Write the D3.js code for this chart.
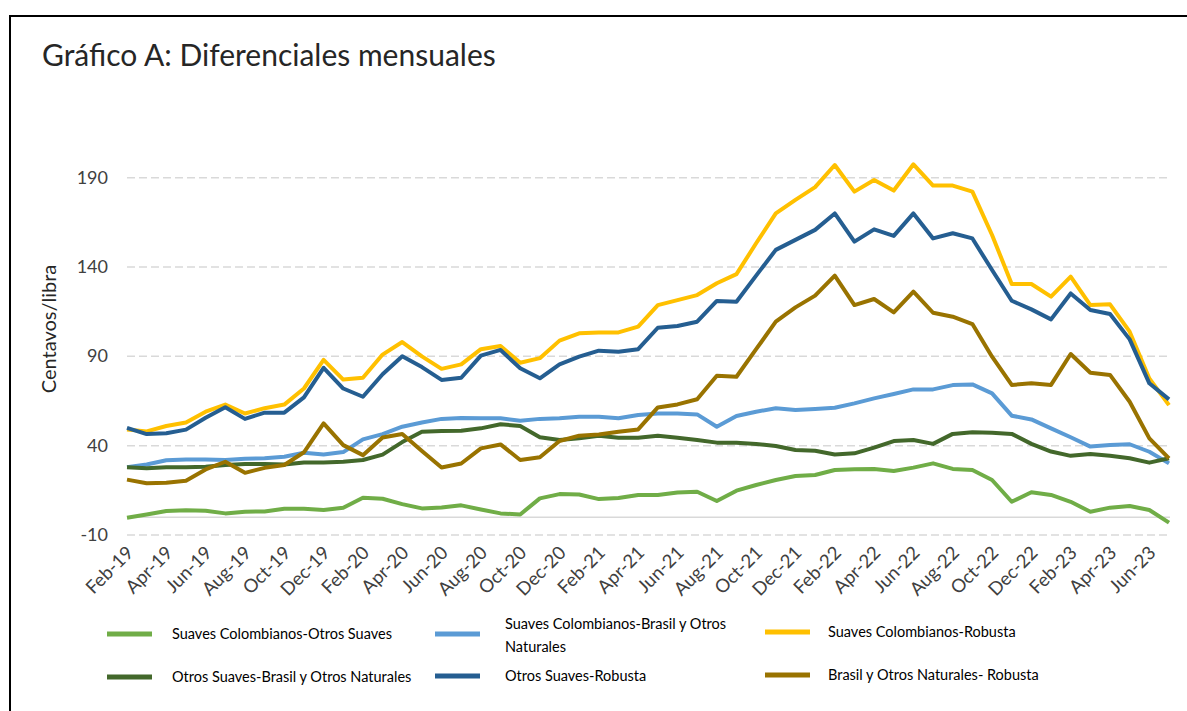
<!DOCTYPE html>
<meta charset="utf-8">
<head>
    <title>Gráfico A: Diferenciales mensuales</title>
    <script src="https://cdn.jsdelivr.net/npm/d3@7"></script>
    <style>
        body { margin: 0; background: #fff; }
        svg text { font-family: Lato, "Open Sans", sans-serif; fill: #404040; }
        .title { fill: #262626; }
    </style>
</head>
<body>
<svg id="chart"></svg>
<script>
    // data, cents/lb
    var months = ["Feb-19","Mar-19","Apr-19","May-19","Jun-19","Jul-19","Aug-19","Sep-19","Oct-19","Nov-19","Dec-19","Jan-20",
        "Feb-20","Mar-20","Apr-20","May-20","Jun-20","Jul-20","Aug-20","Sep-20","Oct-20","Nov-20","Dec-20","Jan-21",
        "Feb-21","Mar-21","Apr-21","May-21","Jun-21","Jul-21","Aug-21","Sep-21","Oct-21","Nov-21","Dec-21","Jan-22",
        "Feb-22","Mar-22","Apr-22","May-22","Jun-22","Jul-22","Aug-22","Sep-22","Oct-22","Nov-22","Dec-22","Jan-23",
        "Feb-23","Mar-23","Apr-23","May-23","Jun-23","Jul-23"];

    var colOtrosSuaves = [-0.3, 1.5, 3.4, 3.8, 3.6, 2.1, 3, 3.2, 4.7, 4.7, 4, 5.3, 10.9, 10.3, 7.3, 4.9, 5.4, 6.6,
        4.3, 2.1, 1.5, 10.5, 12.9, 12.7, 10.1, 10.7, 12.4, 12.4, 13.8, 14.2, 9, 14.8, 18, 20.8, 23, 23.6,
        26.4, 26.8, 27, 25.8, 27.7, 30.1, 27, 26.4, 20.8, 8.6, 13.9, 12.4, 8.6, 3, 5.3, 6.2, 4, -3.1];
    var colBrasil = [28, 29.5, 31.8, 32.3, 32.3, 32, 32.7, 33, 33.8, 36, 35, 36.4, 43.5, 46.5, 50.6, 53, 55, 55.5,
        55.3, 55.3, 54, 55, 55.3, 56.2, 56.2, 55.3, 57.2, 58, 58, 57.5, 50.6, 56.6, 59, 61, 60, 60.5,
        61.2, 63.7, 66.5, 68.9, 71.5, 71.5, 73.9, 74.3, 69.3, 56.8, 54.7, 49.7, 44.7, 39.5, 40.4, 40.8, 36.6, 30.1];
    var colRobusta = [49, 48, 51, 53, 59, 63, 58, 61, 63, 72, 88, 77, 78, 91, 98, 90, 83, 85.5,
        94, 95.8, 86.4, 89, 98.8, 102.9, 103.4, 103.4, 106.6, 118.7, 121.5, 124.3, 130.9, 136, 153.3, 170, 177.6, 184.7,
        197.1, 182.2, 188.7, 182.8, 197.5, 185.6, 185.6, 182.2, 157.9, 130.5, 130.5, 123.4, 134.6, 118.7, 119.1, 103.8, 77.6, 62.7];
    var otrosBrasil = [27.9, 27.3, 27.9, 27.9, 28.2, 29.2, 29.7, 29.7, 29.5, 30.6, 30.6, 31, 32, 35, 42, 47.8, 48.2, 48.4,
        49.7, 52, 51, 44.7, 43.2, 44.1, 45.6, 44.4, 44.4, 45.6, 44.4, 43.2, 41.7, 41.7, 41, 39.8, 37.6, 37.2,
        35.1, 35.7, 38.9, 42.6, 43.2, 41, 46.6, 47.5, 47.3, 46.6, 41, 36.7, 34.3, 35.4, 34.3, 33, 30.5, 33];
    var otrosRobusta = [50, 46.5, 47, 49, 55.6, 61.5, 55, 58.5, 58.5, 67, 83.6, 72, 67.4, 80, 90, 84, 76.8, 78,
        90.4, 93.6, 83.3, 77.7, 85.5, 89.8, 93.2, 92.6, 94, 106, 107, 109.4, 121, 120.6, 135.2, 149.6, 155.2, 160.8,
        170, 154.2, 161.1, 157.4, 170, 156, 158.9, 156, 138.3, 121.1, 116.3, 110.7, 125.2, 115.9, 113.7, 99.5, 74.9, 65.9];
    var brasilRobusta = [21, 19, 19.3, 20.4, 26.7, 31, 24.8, 27.6, 29.2, 36.3, 52.5, 40.3, 34.7, 44.6, 46.5, 37, 27.8, 30,
        38.5, 40.7, 32, 33.5, 42.6, 45.6, 46.3, 47.8, 49.1, 61.4, 63.1, 66, 79.1, 78.6, 94, 109.4, 117.4, 124,
        135.2, 118.7, 122.1, 114.6, 126.2, 114.4, 112.2, 108.1, 89.8, 74, 74.9, 74, 91.3, 80.8, 79.6, 64.6, 44.1, 32.9];

    var seriesNames = ["Suaves Colombianos-Otros Suaves", "Suaves Colombianos-Brasil y Otros Naturales",
        "Suaves Colombianos-Robusta", "Otros Suaves-Brasil y Otros Naturales", "Otros Suaves-Robusta",
        "Brasil y Otros Naturales- Robusta"];
    var seriesColors = ["#70ad47", "#5b9bd5", "#ffc000", "#43682b", "#255e91", "#997300"];
    var yTicks = [-10, 40, 90, 140, 190];

    var series = [colOtrosSuaves, colBrasil, colRobusta, otrosBrasil, otrosRobusta, brasilRobusta];

    var width = 1187, height = 711;
    var svg = d3.select("#chart").attr("width", width).attr("height", height);

    // frame round the chart
    svg.append("rect")
        .attr("x", 10).attr("y", 16)
        .attr("width", 1200).attr("height", 720)
        .attr("fill", "none").attr("stroke", "#000").attr("stroke-width", 2);

    svg.append("text")
        .attr("class", "title")
        .attr("x", 42).attr("y", 66)
        .style("font-size", "30px")
        .text("Gráfico A: Diferenciales mensuales");

    var x = d3.scalePoint().domain(months).range([127, 1169]);
    var y = d3.scaleLinear().domain([-10, 190]).range([535, 177.7]);

    // grid
    svg.append("g").selectAll("line")
        .data(yTicks)
        .enter().append("line")
        .attr("x1", 127).attr("x2", 1170)
        .attr("y1", d => y(d)).attr("y2", d => y(d))
        .attr("stroke", "#d9d9d9").attr("stroke-width", 1.5)
        .attr("stroke-dasharray", "8,4");

    svg.append("line")
        .attr("x1", 127).attr("x2", 1170)
        .attr("y1", y(0)).attr("y2", y(0))
        .attr("stroke", "#d9d9d9").attr("stroke-width", 1.5);

    // y axis labels
    svg.append("g").selectAll("text")
        .data(yTicks)
        .enter().append("text")
        .attr("x", 108).attr("y", d => y(d) + 6)
        .attr("text-anchor", "end")
        .style("font-size", "18px")
        .text(d => d);

    svg.append("text")
        .attr("transform", "translate(56,329) rotate(-90)")
        .attr("text-anchor", "middle")
        .style("font-size", "20px")
        .style("fill", "#262626")
        .text("Centavos/libra");

    // x axis labels, every other month
    var xAxis = d3.axisBottom(x)
        .tickValues(months.filter((m, i) => i % 2 === 0))
        .tickSize(0);
    var gx = svg.append("g").attr("transform", "translate(0,545)").call(xAxis);
    gx.select(".domain").remove();
    gx.selectAll("text")
        .attr("text-anchor", "end")
        .attr("dy", null).attr("y", 0)
        .attr("transform", "translate(7,9) rotate(-45)")
        .style("font-size", "18.5px")
        .style("font-family", "Lato, sans-serif")
        .style("fill", "#404040");

    // lines
    var line = d3.line()
        .x((d, i) => x(months[i]))
        .y(d => y(d));

    svg.append("g").selectAll("path")
        .data(series)
        .enter().append("path")
        .attr("d", line)
        .attr("fill", "none")
        .attr("stroke", (d, i) => seriesColors[i])
        .attr("stroke-width", 4)
        .attr("stroke-linejoin", "round");

    // legend
    var legendPos = [
        {x: 107, y: 634}, {x: 435, y: 634}, {x: 765, y: 632},
        {x: 107, y: 677}, {x: 435, y: 676}, {x: 765, y: 675}
    ];
    var legend = svg.append("g").selectAll("g")
        .data(seriesNames)
        .enter().append("g")
        .attr("transform", (d, i) => "translate(" + legendPos[i].x + "," + legendPos[i].y + ")");

    legend.append("line")
        .attr("x1", 0).attr("x2", 45)
        .attr("stroke", (d, i) => seriesColors[i])
        .attr("stroke-width", 5);

    legend.each(function(d, i) {
        var g = d3.select(this);
        var lines = (i === 1) ? ["Suaves Colombianos-Brasil y Otros", "Naturales"] : [d];
        var startY = lines.length > 1 ? -10 : 0;
        lines.forEach(function(t, k) {
            g.append("text")
                .attr("x", i % 3 === 0 ? 65 : (i % 3 === 1 ? 70 : 63))
                .attr("y", startY + k * 23 + 5)
                .style("font-size", "14.5px")
                .style("fill", "#000")
                .text(t);
        });
    });
</script>
</body>
</html>
